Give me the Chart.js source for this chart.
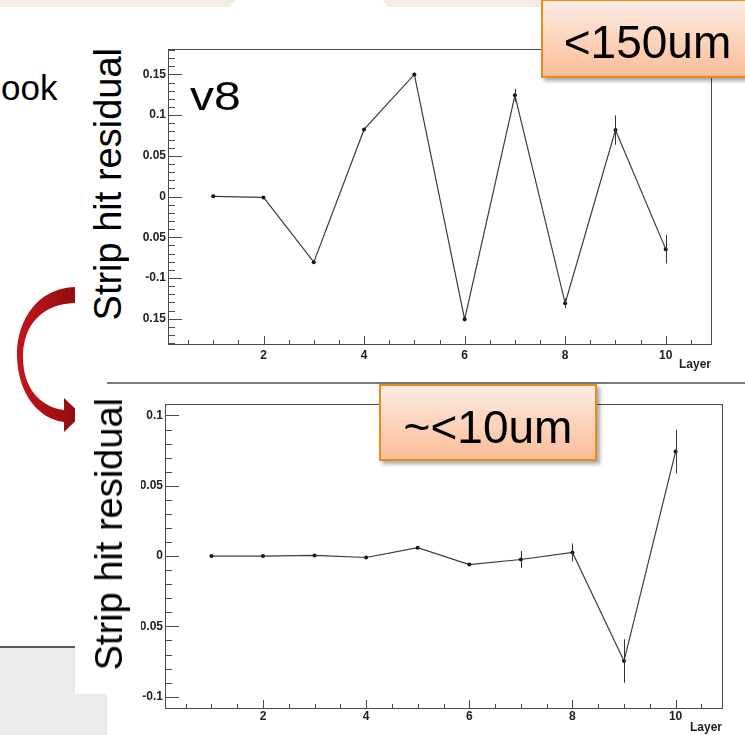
<!DOCTYPE html>
<html>
<head>
<meta charset="utf-8">
<script src="https://cdn.jsdelivr.net/npm/chart.js@4"></script>
<style>
  html, body { margin: 0; padding: 0; background: #fff; }
  body { position: relative; width: 745px; height: 735px; overflow: hidden; font-family: "Liberation Sans", Arial, sans-serif; color: #000; }
  .abs { position: absolute; }
  canvas { position: absolute; }
  .ytitle { position: absolute; background: #fff; overflow: hidden; }
  .ytitle span { position: absolute; left: 0; writing-mode: vertical-rl; transform: rotate(180deg); font-size: 38px; line-height: 44px; white-space: nowrap; }
  .note { position: absolute; box-sizing: border-box; border: 2px solid #ea8a1e; background: linear-gradient(#fdebe3, #fbbd97); box-shadow: 3px 3px 4px rgba(0,0,0,0.35); font-size: 46px; line-height: 46px; text-align: center; white-space: nowrap; }
</style>
</head>
<body>
<!-- slide chrome -->
<div class="abs" style="left:0;top:0;width:745px;height:7px;background:#f3ece0;"></div>
<div class="abs" style="left:228px;top:0;width:160px;height:8px;background:#fff;clip-path:polygon(0 100%, 8px 0, 155px 0, 100% 100%);"></div>
<div class="abs" style="left:1px;top:70px;font-size:35px;line-height:35px;">ook</div>
<div class="abs" style="left:0;top:646px;width:75px;height:2px;background:#5a5a5a;"></div>
<div class="abs" style="left:0;top:648px;width:75px;height:87px;background:#ebebeb;"></div>
<div class="abs" style="left:75px;top:694px;width:32px;height:41px;background:#ebebeb;"></div>
<div class="abs" style="left:107px;top:382px;width:638px;height:2px;background:#7a7a7a;"></div>
<svg class="abs" style="left:0;top:0;" width="75" height="735">
  <defs>
    <linearGradient id="red" x1="0" y1="0" x2="1" y2="0">
      <stop offset="0" stop-color="#c2161c"/>
      <stop offset="1" stop-color="#8e0c10"/>
    </linearGradient>
  </defs>
  <path fill="url(#red)" d="M75,287 C38,288 16,320 17,357 C18,393 38,419 64,422 L64,432 L82,415 L64,398 L64,410 C40,407 23,388 23,357 C23,325 42,304 75,303 Z"/>
</svg>

<canvas id="topChart" width="640" height="340" style="left:100px;top:40px;"></canvas>
<canvas id="bottomChart" width="640" height="340" style="left:100px;top:395px;"></canvas>

<div class="ytitle" style="left:86px;top:44px;width:57px;height:298px;"><span class="ylabel" style="top:4px;"></span></div>
<div class="ytitle" style="left:87px;top:392px;width:54px;height:298px;"><span class="ylabel" style="top:6px;"></span></div>

<div class="abs" style="left:190px;top:76px;font-size:40px;line-height:40px;transform:scaleX(1.2);transform-origin:left top;">v8</div>
<div class="note" style="left:541px;top:-1px;width:213px;height:79px;padding-top:18px;">&lt;150um</div>
<div class="note" style="left:379px;top:384px;width:218px;height:77px;padding-top:18px;">~&lt;10um</div>

<script>
// Data
const layers = [1, 2, 3, 4, 5, 6, 7, 8, 9, 10];
const residualV8 = [0.0003, -0.001, -0.0805, 0.0825, 0.150, -0.1507, 0.1244, -0.131, 0.0817, -0.0645];
const errorV8 = [0.001, 0.001, 0.001, 0.001, 0.001, 0.001, 0.008, 0.006, 0.018, 0.0177];
const residualFixed = [0.0, 0.0, 0.0005, -0.001, 0.006, -0.006, -0.0024, 0.0026, -0.0746, 0.0743];
const errorFixed = [0.0005, 0.0005, 0.0005, 0.0005, 0.0005, 0.0005, 0.006, 0.0064, 0.0155, 0.0155];
const xAxisTitle = "Layer";
const yAxisTitle = "Strip hit residual";

const FONT = "'Liberation Sans', Arial, sans-serif";

document.querySelectorAll(".ylabel").forEach(el => { el.textContent = yAxisTitle; });

function isMultiple(v, step) {
  const r = v / step;
  return Math.abs(r - Math.round(r)) < 1e-6;
}

// ROOT style frame with inward ticks
const rootAxes = {
  id: "rootAxes",
  beforeDatasetsDraw(chart, args, opts) {
    const { ctx, chartArea: a, scales: { x, y } } = chart;
    ctx.save();
    ctx.strokeStyle = "#4a4a4a";
    ctx.lineWidth = 1;
    ctx.strokeRect(Math.round(a.left) + 0.5, Math.round(a.top) + 0.5, Math.round(a.width), Math.round(a.height));
    ctx.beginPath();
    for (let i = Math.ceil(x.min / opts.xMinor - 1e-9); i * opts.xMinor <= x.max + 1e-9; i++) {
      const v = i * opts.xMinor;
      const px = Math.round(x.getPixelForValue(v)) + 0.5;
      const len = isMultiple(v, opts.xMajor) ? 8 : 4;
      ctx.moveTo(px, a.bottom);
      ctx.lineTo(px, a.bottom - len);
    }
    for (let i = Math.ceil(y.min / opts.yMinor - 1e-9); i * opts.yMinor <= y.max + 1e-9; i++) {
      const v = i * opts.yMinor;
      const py = Math.round(y.getPixelForValue(v)) + 0.5;
      const len = isMultiple(v, opts.yMajor) ? 14 : 7;
      ctx.moveTo(a.left, py);
      ctx.lineTo(a.left + len, py);
    }
    ctx.stroke();
    ctx.restore();
  }
};

// vertical error bars, no caps
const errorBars = {
  id: "errorBars",
  afterDatasetsDraw(chart) {
    const { ctx, scales: { x, y } } = chart;
    chart.data.datasets.forEach(ds => {
      if (!ds.errors) return;
      ctx.save();
      ctx.strokeStyle = "#333";
      ctx.lineWidth = 1;
      ctx.beginPath();
      ds.data.forEach((p, i) => {
        const px = Math.round(x.getPixelForValue(p.x)) + 0.5;
        ctx.moveTo(px, y.getPixelForValue(p.y - ds.errors[i]));
        ctx.lineTo(px, y.getPixelForValue(p.y + ds.errors[i]));
      });
      ctx.stroke();
      ctx.restore();
    });
  }
};

function makeChart(id, values, errors, yRange, box) {
  const tickFont = { family: FONT, size: 12, weight: "bold" };
  return new Chart(document.getElementById(id), {
    type: "line",
    data: {
      datasets: [{
        data: layers.map((l, i) => ({ x: l, y: values[i] })),
        errors: errors,
        borderColor: "#3a3a3a",
        borderWidth: 1.2,
        pointRadius: 2,
        pointBackgroundColor: "#111",
        pointBorderWidth: 0,
        tension: 0
      }]
    },
    options: {
      responsive: false,
      animation: false,
      layout: { padding: box.padding },
      plugins: {
        legend: { display: false },
        tooltip: { enabled: false },
        rootAxes: { xMinor: 0.5, xMajor: 2, yMinor: 0.01, yMajor: 0.05 }
      },
      scales: {
        x: {
          type: "linear",
          min: 0.1,
          max: 10.9,
          grid: { display: false, drawTicks: false },
          border: { display: false },
          ticks: { stepSize: 2, includeBounds: false, font: tickFont, color: "#222", padding: box.xPad },
          title: { display: true, text: xAxisTitle, align: "end", font: tickFont, color: "#222", padding: { top: 0, bottom: 0 } },
          afterFit: s => { s.height = box.xHeight; }
        },
        y: {
          min: -yRange,
          max: yRange,
          grid: { display: false, drawTicks: false },
          border: { display: false },
          ticks: {
            stepSize: 0.05,
            includeBounds: false,
            font: tickFont,
            color: "#222",
            padding: 2,
            callback: v => String(Number(v.toFixed(3)))
          },
          afterFit: s => { s.width = box.yWidth; }
        }
      }
    },
    plugins: [rootAxes, errorBars]
  });
}

makeChart("topChart", residualV8, errorV8, 0.181,
  { padding: { left: 0, right: 29, top: 9, bottom: 8 }, xHeight: 28, yWidth: 68, xPad: 4 });
makeChart("bottomChart", residualFixed, errorFixed, 0.108,
  { padding: { left: 0, right: 18, top: 9, bottom: 0 }, xHeight: 27, yWidth: 65, xPad: 1 });
</script>
</body>
</html>
